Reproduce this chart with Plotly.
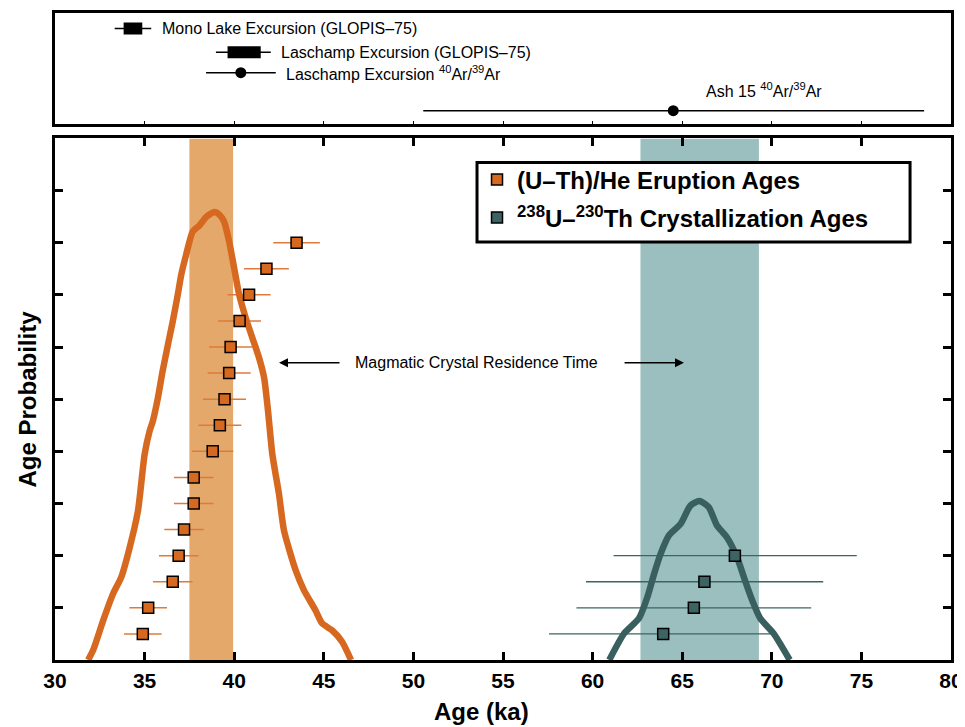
import plotly.graph_objects as go

# ---------------- data ----------------
# (U-Th)/He eruption ages (ka) with errors, stacked rows
he_age = [34.9, 35.2, 36.57, 36.9, 37.2, 37.74, 37.74, 38.8, 39.2, 39.46, 39.72, 39.8, 40.3, 40.83, 41.8, 43.48]
he_err = [1.05, 1.05, 1.1, 1.1, 1.1, 1.1, 1.1, 1.15, 1.2, 1.2, 1.2, 1.2, 1.2, 1.2, 1.25, 1.3]
he_row = [0.5, 1.0, 1.5, 2.0, 2.5, 3.0, 3.5, 4.0, 4.5, 5.0, 5.5, 6.0, 6.5, 7.0, 7.5, 8.0]

# 238U-230Th crystallization ages (ka)
th_age = [63.94, 65.65, 66.24, 67.94]
th_err_plus = [6.0, 6.55, 6.63, 6.8]
th_err_minus = [6.37, 6.55, 6.61, 6.77]
th_row = [0.5, 1.0, 1.5, 2.0]

# probability curves
he_curve_x = [31.85, 32.13, 32.69, 33.24, 33.7, 34.17, 34.63, 35.0, 35.28, 35.46, 35.74, 36.0, 36.3,
              36.57, 36.85, 37.04, 37.31, 37.68, 38.06, 38.43, 38.89, 39.17, 39.44, 39.72, 40.0, 40.28,
              40.65, 41.02, 41.39, 41.67, 41.88, 42.13, 42.5, 42.78, 43.43, 43.89, 44.54, 44.91, 45.46,
              46.02, 46.52]
he_curve_y = [0.0, 0.19, 0.76, 1.27, 1.59, 2.16, 2.86, 3.94, 4.39, 4.58, 5.02, 5.53, 6.04,
              6.49, 7.0, 7.38, 7.76, 8.21, 8.33, 8.49, 8.59, 8.54, 8.40, 8.02, 7.51, 7.0,
              6.55, 6.17, 5.79, 5.41, 4.8, 3.94, 3.18, 2.48, 1.72, 1.34, 0.95, 0.70, 0.57,
              0.35, 0.0]
th_curve_x = [60.93, 61.76, 62.59, 63.06, 63.43, 63.8, 64.26, 64.91, 65.46, 65.96, 66.48, 66.94,
              67.5, 68.06, 68.5, 68.9, 69.35, 70.1, 71.0]
th_curve_y = [0.0, 0.51, 0.8, 1.21, 1.65, 2.04, 2.39, 2.61, 2.96, 3.05, 2.93, 2.58,
              2.35, 1.97, 1.53, 1.15, 0.8, 0.51, 0.0]

# weighted-mean bands (ka)
he_band = [37.5, 39.94]
th_band = [62.67, 69.28]

# reference ages for top panel
ref_names = ["Mono Lake Excursion (GLOPIS\u201375)", "Laschamp Excursion (GLOPIS\u201375)",
             "Laschamp Excursion <sup>40</sup>Ar/<sup>39</sup>Ar", "Ash 15 <sup>40</sup>Ar/<sup>39</sup>Ar"]
ref_center = [34.35, 40.55, 40.37, 64.5]
ref_box_lo = [33.83, 39.63, None, None]
ref_box_hi = [34.87, 41.48, None, None]
ref_lo = [33.33, 38.98, 38.43, 50.55]
ref_hi = [35.37, 42.04, 42.32, 78.5]
ref_row = [4.3, 3.22, 2.3, 0.58]

x_ticks = [30, 35, 40, 45, 50, 55, 60, 65, 70, 75, 80]
y_ticks = [1, 2, 3, 4, 5, 6, 7, 8, 9]

# ---------------- styles ----------------
ORANGE = "#D6691F"
ORANGE_BAND = "#E3A86A"
ORANGE_ERR = "#E07A3A"
TEAL = "#3A5F5F"
TEAL_BAND = "#9BBFBF"
TEAL_MARK = "#3C6464"
FONT = "Liberation Sans, Arial, Helvetica, sans-serif"

fig = go.Figure()

# bands
for band, col in [(he_band, ORANGE_BAND), (th_band, TEAL_BAND)]:
    fig.add_trace(go.Scatter(x=[band[0], band[1], band[1], band[0], band[0]], y=[0, 0, 10, 10, 0],
                             fill="toself", fillcolor=col, line=dict(width=0), mode="lines",
                             showlegend=False, hoverinfo="skip", xaxis="x", yaxis="y"))

# error bars (drawn under curves)
fig.add_trace(go.Scatter(x=he_age, y=he_row, mode="markers", marker=dict(size=1, opacity=0),
                         error_x=dict(type="data", array=he_err, color=ORANGE_ERR, thickness=1.5, width=0),
                         showlegend=False, hoverinfo="skip"))
fig.add_trace(go.Scatter(x=th_age, y=th_row, mode="markers", marker=dict(size=1, opacity=0),
                         error_x=dict(type="data", array=th_err_plus, arrayminus=th_err_minus,
                                      symmetric=False, color=TEAL_MARK, thickness=1.3, width=0),
                         showlegend=False, hoverinfo="skip"))

# curves
fig.add_trace(go.Scatter(x=he_curve_x, y=he_curve_y, mode="lines",
                         line=dict(color=ORANGE, width=6.5, shape="spline", smoothing=0.6),
                         showlegend=False, hoverinfo="skip"))
fig.add_trace(go.Scatter(x=th_curve_x, y=th_curve_y, mode="lines",
                         line=dict(color=TEAL, width=6.5, shape="spline", smoothing=0.6),
                         showlegend=False, hoverinfo="skip"))

# markers
fig.add_trace(go.Scatter(x=he_age, y=he_row, mode="markers", name="(U\u2013Th)/He Eruption Ages",
                         marker=dict(symbol="square", size=11, color=ORANGE, line=dict(color="black", width=1.5)),
                         legendgroup="a"))
fig.add_trace(go.Scatter(x=th_age, y=th_row, mode="markers",
                         name="<sup>238</sup>U\u2013<sup>230</sup>Th Crystallization Ages",
                         marker=dict(symbol="square", size=11, color=TEAL_MARK, line=dict(color="black", width=1.5)),
                         legendgroup="b"))

# top panel: reference ages
for i in range(len(ref_names)):
    fig.add_trace(go.Scatter(x=[ref_lo[i], ref_hi[i]], y=[ref_row[i], ref_row[i]], mode="lines",
                             line=dict(color="black", width=1.5), showlegend=False, hoverinfo="skip",
                             xaxis="x2", yaxis="y2"))
    if ref_box_lo[i] is not None:
        fig.add_trace(go.Scatter(x=[ref_box_lo[i], ref_box_hi[i]], y=[ref_row[i], ref_row[i]], mode="lines",
                                 line=dict(color="black", width=12), showlegend=False, hoverinfo="skip",
                                 xaxis="x2", yaxis="y2"))
    else:
        fig.add_trace(go.Scatter(x=[ref_center[i]], y=[ref_row[i]], mode="markers",
                                 marker=dict(color="black", size=11), showlegend=False, hoverinfo="skip",
                                 xaxis="x2", yaxis="y2"))

annotations = []
label_x = [ref_hi[0] + 0.5, ref_hi[1] + 0.45, ref_hi[2] + 0.45, 69.56]
label_y = [ref_row[0], ref_row[1], ref_row[2], 1.5]
label_anchor = ["left", "left", "left", "center"]
for i in range(len(ref_names)):
    annotations.append(dict(x=label_x[i], y=label_y[i], xref="x2", yref="y2", text=ref_names[i],
                            showarrow=False, xanchor=label_anchor[i], yanchor="middle",
                            font=dict(family=FONT, size=16, color="black")))

# residence-time annotation and arrows
annotations.append(dict(x=53.5, y=5.7, xref="x", yref="y", text="Magmatic Crystal Residence Time",
                        showarrow=False, font=dict(family=FONT, size=16, color="black")))
annotations.append(dict(x=42.5, y=5.7, ax=45.96, ay=5.7, xref="x", yref="y", axref="x", ayref="y",
                        text="", showarrow=True, arrowhead=2, arrowsize=1.2, arrowwidth=1.5, arrowcolor="black"))
annotations.append(dict(x=65.1, y=5.7, ax=61.7, ay=5.7, xref="x", yref="y", axref="x", ayref="y",
                        text="", showarrow=True, arrowhead=2, arrowsize=1.2, arrowwidth=1.5, arrowcolor="black"))

# axis titles
annotations.append(dict(x=0.4755, y=-0.08, xref="paper", yref="paper", text="<b>Age (ka)</b>",
                        showarrow=False, yanchor="middle",
                        font=dict(family=FONT, size=24, color="black")))
annotations.append(dict(x=-0.031, y=0.403, xref="paper", yref="paper", text="<b>Age Probability</b>",
                        showarrow=False, textangle=-90, xanchor="center", yanchor="middle",
                        font=dict(family=FONT, size=24, color="black")))

# legend frame (white box with black border)
shapes = [dict(type="rect", xref="paper", yref="paper", x0=0.471, x1=0.9543, y0=0.646, y1=0.769,
               fillcolor="white", line=dict(color="black", width=3), layer="above")]

# page body has an 8px default margin, so the figure is sized to fit the window after that offset
fig.update_layout(
    width=957, height=719,
    margin=dict(l=47, r=11, t=2, b=67),
    paper_bgcolor="white", plot_bgcolor="white",
    font=dict(family=FONT, color="black"),
    showlegend=True,
    legend=dict(x=0.471, y=0.777, xanchor="left", yanchor="top",
                bgcolor="rgba(0,0,0,0)", borderwidth=0,
                font=dict(family=FONT, size=24, color="black", weight="bold"),
                tracegroupgap=4, itemsizing="trace"),
    xaxis=dict(domain=[0, 1], range=[30, 80], anchor="y", tickvals=x_ticks,
               ticks="inside", ticklen=8, tickwidth=2.5, tickcolor="black",
               showline=True, linewidth=3, linecolor="black", mirror="allticks",
               showgrid=False, zeroline=False, ticklabeloverflow="allow",
               tickfont=dict(family=FONT, size=21, color="black", weight="bold")),
    yaxis=dict(domain=[0, 0.8062], range=[0, 10], anchor="x", tickvals=y_ticks,
               ticks="inside", ticklen=8, tickwidth=2.5, tickcolor="black", showticklabels=False,
               showline=True, linewidth=3, linecolor="black", mirror="allticks",
               showgrid=False, zeroline=False),
    xaxis2=dict(domain=[0, 1], range=[30, 80], anchor="y2", tickvals=x_ticks,
                ticks="inside", ticklen=3, tickwidth=1, tickcolor="black", showticklabels=False,
                showline=True, linewidth=3, linecolor="black", mirror=True,
                showgrid=False, zeroline=False),
    yaxis2=dict(domain=[0.8292, 1], range=[0, 5], anchor="x2", showticklabels=False, ticks="",
                showline=True, linewidth=3, linecolor="black", mirror=True,
                showgrid=False, zeroline=False),
    shapes=shapes,
    annotations=annotations,
)

fig.write_html("out.html")
